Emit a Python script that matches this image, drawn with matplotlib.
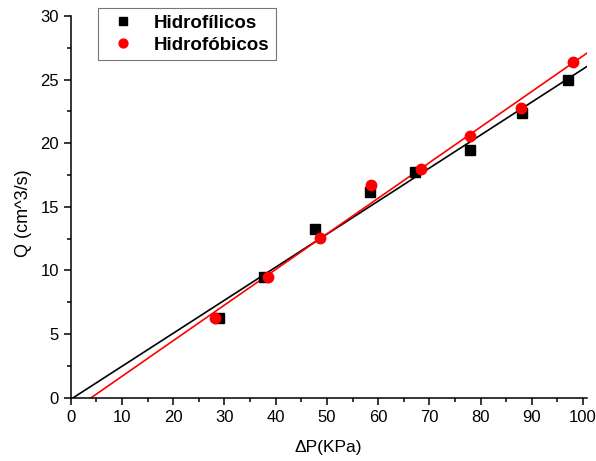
import matplotlib.pyplot as plt
from matplotlib.ticker import MultipleLocator
import numpy as np

plt.rcParams['font.family'] = ['Liberation Sans', 'DejaVu Sans']

# pressure drop (KPa) and flow (cm^3/s)
dp_hidrofilicos = [29.0, 37.7, 47.6, 58.5, 67.2, 78.0, 88.1, 97.1]
q_hidrofilicos = [6.25, 9.47, 13.25, 16.2, 17.7, 19.45, 22.35, 24.95]

dp_hidrofobicos = [28.2, 38.6, 48.7, 58.6, 68.4, 77.9, 87.9, 98.1]
q_hidrofobicos = [6.25, 9.47, 12.57, 16.7, 18.0, 20.6, 22.8, 26.4]

fig = plt.figure(figsize=(5.96, 4.61), dpi=100)
ax = fig.add_axes([0.1186, 0.1373, 0.8658, 0.828])

# linear fits
xx = np.array([0, 100.7])
for xs, ys, col in [(dp_hidrofilicos, q_hidrofilicos, "black"),
                    (dp_hidrofobicos, q_hidrofobicos, "red")]:
    m, b = np.polyfit(xs, ys, 1)
    ax.plot(xx, m * xx + b, color=col, lw=1.2, zorder=2)

ax.plot(dp_hidrofilicos, q_hidrofilicos, "s", color="black", ms=6.5,
        label="Hidrofílicos", zorder=3)
ax.plot(dp_hidrofobicos, q_hidrofobicos, "o", color="red", ms=7.5,
        label="Hidrofóbicos", zorder=3)

ax.set_xlim(0, 100.7)
ax.set_ylim(0, 30)
ax.xaxis.set_major_locator(MultipleLocator(10))
ax.xaxis.set_minor_locator(MultipleLocator(5))
ax.yaxis.set_major_locator(MultipleLocator(5))
ax.yaxis.set_minor_locator(MultipleLocator(2.5))

for s in ["top", "right"]:
    ax.spines[s].set_visible(False)
for s in ["left", "bottom"]:
    ax.spines[s].set_linewidth(1.1)
ax.tick_params(which="major", direction="out", length=5, width=1.1,
               labelsize=12, colors="black")
ax.tick_params(which="minor", direction="out", length=3, width=1.1)

ax.set_xlabel("ΔP(KPa)", fontsize=12.5, labelpad=11)
ax.set_ylabel("Q (cm^3/s)", fontsize=13, labelpad=6)
ax.yaxis.label.set_y(0.484)

leg = ax.legend(loc="upper left", bbox_to_anchor=(98 / 596, 1 - 8 / 461),
                bbox_transform=fig.transFigure, borderaxespad=0,
                prop={"weight": "bold", "size": 13.5}, fancybox=False,
                framealpha=1, edgecolor="#777777", handlelength=2.0,
                handletextpad=0.6, borderpad=0.35, labelspacing=0.25,
                markerscale=0.85)
leg.get_frame().set_linewidth(0.8)

plt.savefig("out.png", dpi=100)
